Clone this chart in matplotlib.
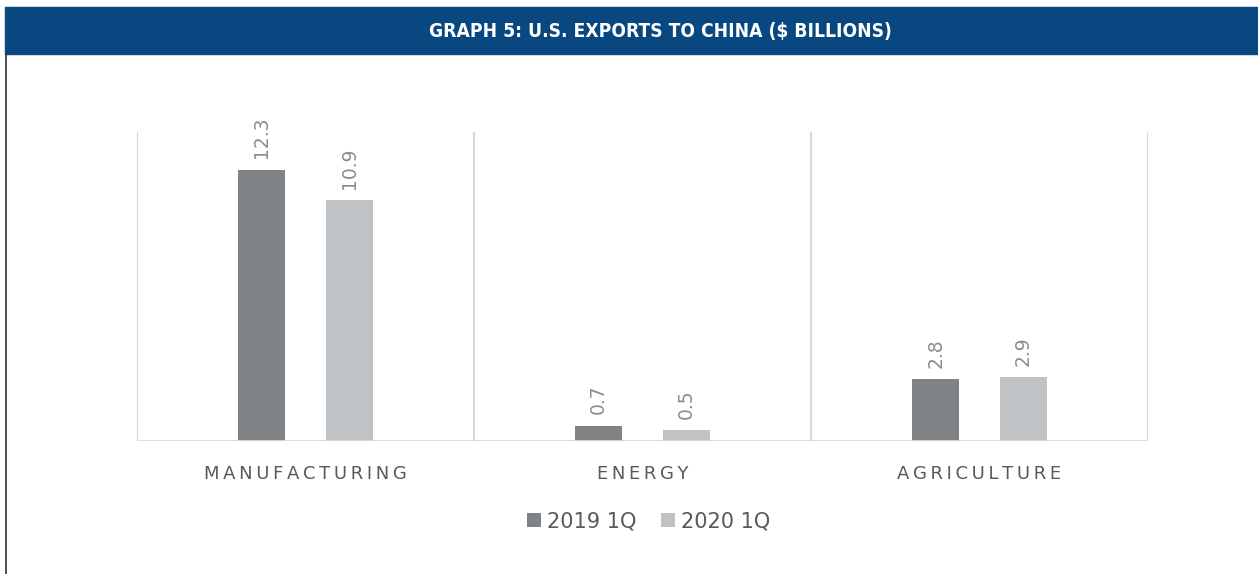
import matplotlib.pyplot as plt
import numpy as np
from matplotlib.patches import Rectangle
from matplotlib.lines import Line2D

categories = ["MANUFACTURING", "ENERGY", "AGRICULTURE"]
series_names = ["2019 1Q", "2020 1Q"]
exports_2019 = [12.3, 0.7, 2.8]
exports_2020 = [10.9, 0.5, 2.9]

dark = "#7f8385"
light = "#bfc3c5"
grid = "#d5d9dd"

fig = plt.figure(figsize=(12.58, 5.74), dpi=100)

# header band + left rule
fig.patches.append(Rectangle((5 / 1258, 1 - 54 / 574), 1 - 5 / 1258, 47 / 574,
                             transform=fig.transFigure, color="#08477f", zorder=0))
fig.lines.append(Line2D([5.5 / 1258, 5.5 / 1258], [0, 1 - 54 / 574],
                        transform=fig.transFigure, color="#333333", lw=1.2))
fig.text(660 / 1258, 1 - 31 / 574, "GRAPH 5: U.S. EXPORTS TO CHINA ($ BILLIONS)",
         color="white", fontsize=13.8, fontweight="bold", ha="center", va="center",
         family="DejaVu Sans", fontstretch="condensed")

ax = fig.add_axes([137 / 1258, 1 - 441 / 574, (1148 - 137) / 1258, (441 - 132) / 574])
x = np.arange(len(categories))
w = 0.14
b1 = ax.bar(x - 0.13, exports_2019, w, color=dark, label=series_names[0], zorder=3)
b2 = ax.bar(x + 0.13, exports_2020, w, color=light, label=series_names[1], zorder=3)

for bars in (b1, b2):
    for r in bars:
        ax.annotate(f"{r.get_height():.1f}", (r.get_x() + r.get_width() / 2, r.get_height()),
                    xytext=(0, 8), textcoords="offset points", rotation=90,
                    ha="center", va="bottom", color="#8a8d90", fontsize=13.5)

ax.set_xlim(-0.5, 2.5)
ax.set_ylim(0, 14)
for sep in [-0.5, 0.5, 1.5, 2.5]:
    ax.axvline(sep, color=grid, lw=1.5, zorder=1)
for s in ax.spines.values():
    s.set_visible(False)
ax.axhline(0, color=grid, lw=2, zorder=4)
ax.set_yticks([])
ax.set_xticks(x)
ax.set_xticklabels(["\u2009".join(c) for c in categories], color="#595959", fontsize=13)
ax.tick_params(axis="x", length=0, pad=17)

ax.legend(loc="center", bbox_to_anchor=(0.506, -0.26), ncol=2, frameon=False,
          fontsize=15, labelcolor="#595959", handlelength=0.65, handleheight=0.65,
          handletextpad=0.3, columnspacing=1.2)

fig.savefig("out.png", dpi=100)
